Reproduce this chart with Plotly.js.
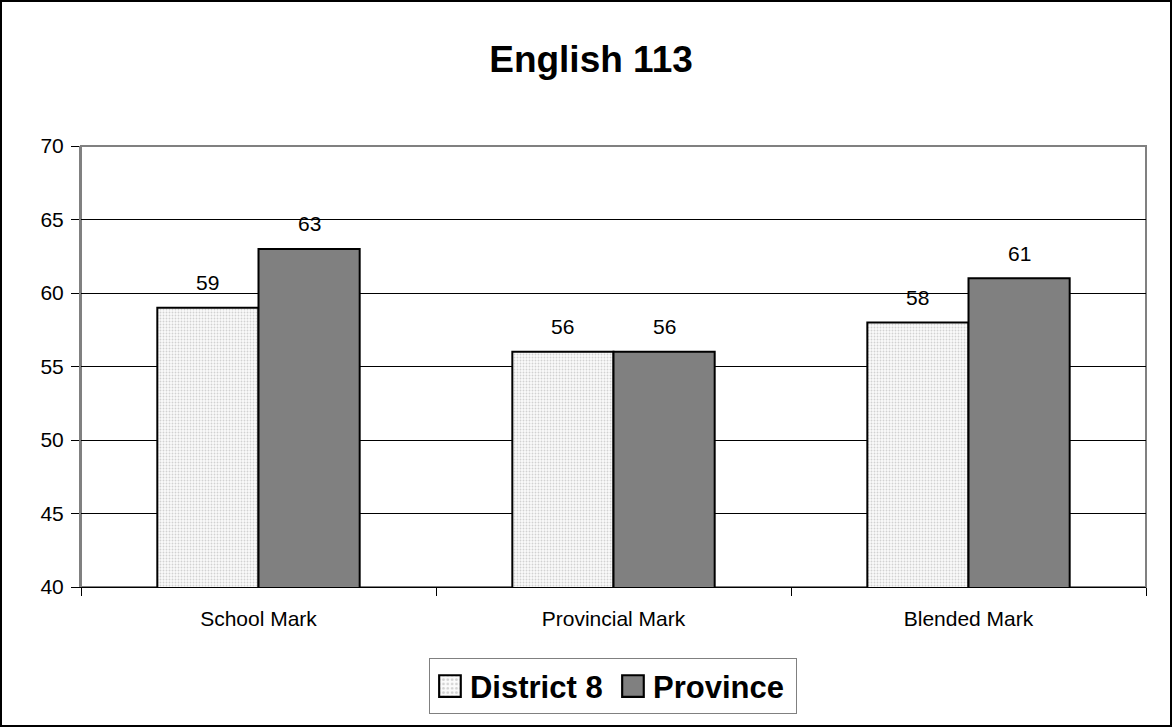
<!DOCTYPE html>
<html><head><meta charset="utf-8">
<script src="https://cdn.plot.ly/plotly-3.0.1.min.js"></script>
<style>
html,body{margin:0;padding:0;background:#fff;}
#wrap{position:relative;width:1172px;height:727px;}
#chart{width:1172px;height:727px;}
#frame{position:absolute;left:0;top:0;width:1168px;height:723px;border:2px solid #000;pointer-events:none;}
</style>
</head><body>
<div id="wrap"><div id="chart"></div><div id="frame"></div></div>
<script>
const categories = ["School Mark", "Provincial Mark", "Blended Mark"];
const district8 = [59, 56, 58];
const province = [63, 56, 61];
const seriesNames = ["District 8", "Province"];
const yTicks = [40, 45, 50, 55, 60, 65, 70];

const font = "Arial, 'Liberation Sans', sans-serif";

const traces = [
  {
    type: "bar", name: seriesNames[0], x: categories, y: district8,
    marker: {color: "#f8f8f8", line: {color: "#000", width: 2},
      pattern: {shape: ".", bgcolor: "#fbfbfb", fgcolor: "#d2d2d2", size: 3, solidity: 0.3}},
    hoverinfo: "none"
  },
  {
    type: "bar", name: seriesNames[1], x: categories, y: province,
    marker: {color: "#808080", line: {color: "#000", width: 2}},
    hoverinfo: "none"
  }
];

const M = {l: 81, r: 26, t: 146, b: 136};
const bargap = 0.43;
const plotW = 1172 - M.l - M.r;
const barPx = plotW / categories.length * (1 - bargap) / 2;

const annotations = [];
[district8, province].forEach((vals, s) => {
  vals.forEach((v, i) => {
    annotations.push({
      x: categories[i], y: v, xref: "x", yref: "y",
      text: String(v), showarrow: false,
      xshift: (s === 0 ? -1 : 1) * barPx / 2,
      yshift: 25, yanchor: "middle",
      font: {family: font, size: 21, color: "#000"}
    });
  });
});

const layout = {
  width: 1172, height: 727,
  margin: M,
  paper_bgcolor: "#fff", plot_bgcolor: "#fff",
  font: {family: font, size: 21, color: "#000"},
  title: {text: "<b>English 113</b>", font: {family: font, size: 37, color: "#000"},
    xref: "container", x: 591/1172, xanchor: "center",
    yref: "container", y: 1 - 59/727, yanchor: "middle"},
  barmode: "group", bargap: bargap, bargroupgap: 0,
  showlegend: true,
  legend: {orientation: "h", x: 0.4995, xanchor: "center", y: -0.162, yanchor: "top",
    font: {family: font, size: 31, color: "#000", weight: "bold"},
    bordercolor: "#808080", borderwidth: 1, bgcolor: "#fff",
    traceorder: "normal", entrywidth: 138, entrywidthmode: "pixels"},
  xaxis: {type: "category", tickson: "boundaries", ticks: "outside", ticklen: 8,
    tickcolor: "#000", showline: true, linecolor: "#000", linewidth: 1,
    tickfont: {family: font, size: 21}, showgrid: false, fixedrange: true,
    zeroline: false, ticklabelstandoff: 13},
  yaxis: {range: [40, 70], tickvals: yTicks, ticktext: yTicks.map(String),
    ticks: "outside", ticklen: 8, tickcolor: "#000",
    showline: true, linecolor: "#808080", linewidth: 2,
    showgrid: true, gridcolor: "#000", gridwidth: 1,
    tickfont: {family: font, size: 21}, zeroline: false, fixedrange: true,
    ticklabelstandoff: 3},
  shapes: [{type: "rect", xref: "paper", yref: "paper", x0: 0, x1: 1, y0: 0, y1: 1,
    line: {color: "#808080", width: 2}, layer: "below"}],
  annotations: annotations
};

Plotly.newPlot("chart", traces, layout, {displayModeBar: false, staticPlot: true}).then(() => {
  document.querySelectorAll("#chart .legend .legendpoints path").forEach(p => {
    const t = p.getAttribute("transform") || "";
    p.setAttribute("transform", t + " scale(1.8)");
    p.style.strokeWidth = "1.2px";
  });
});
</script>
</body></html>
